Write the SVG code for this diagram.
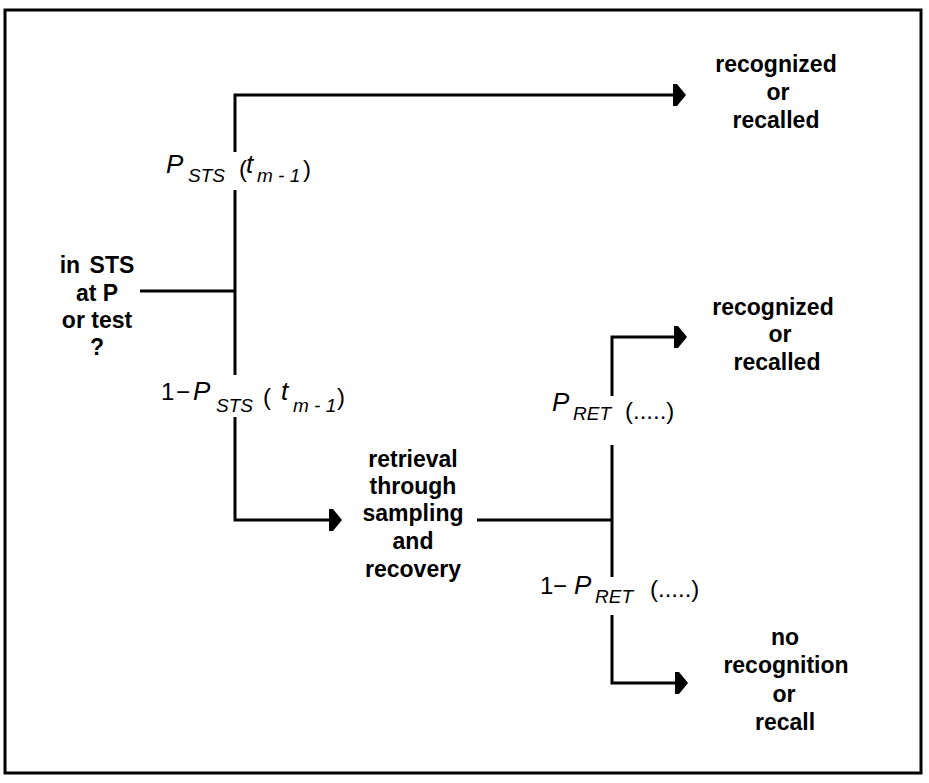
<svg xmlns="http://www.w3.org/2000/svg" width="929" height="783" viewBox="0 0 929 783">
<style>
.t{font-family:"Liberation Sans",Arial,sans-serif;font-size:23px;font-weight:bold;fill:#000;text-anchor:middle}
.f{font-family:"Liberation Sans",Arial,sans-serif;fill:#000}
.P{font-size:26px;font-style:italic}
.s{font-size:19px;font-style:italic}
.p{font-size:24px}
.c{fill:none;stroke:#000;stroke-width:3}
</style>
<defs>
<marker id="ah" markerWidth="14" markerHeight="24" refX="4" refY="12" orient="auto" markerUnits="userSpaceOnUse">
<path d="M0,1 L4,1 L13,12 L4,23 L0,23 Z" fill="#000"/>
</marker>
</defs>
<rect x="5" y="10" width="916" height="763" fill="none" stroke="#000" stroke-width="3"/>
<g id="connectors">
<path class="c" d="M235,152 V95 H677" marker-end="url(#ah)"/>
<path class="c" d="M235,190 V375"/>
<path class="c" d="M140,291 H235"/>
<path class="c" d="M235,417 V520 H333" marker-end="url(#ah)"/>
<path class="c" d="M477,520 H612"/>
<path class="c" d="M612,396 V337 H678" marker-end="url(#ah)"/>
<path class="c" d="M612,445 V577"/>
<path class="c" d="M612,615 V683 H679" marker-end="url(#ah)"/>
</g>
<g id="start">
<text class="t" x="97" y="273" word-spacing="3">in STS</text>
<text class="t" x="97" y="301">at P</text>
<text class="t" x="97" y="328">or test</text>
<text class="t" x="97" y="355">?</text>
</g>
<g id="recognized1">
<text class="t" x="776" y="72">recognized</text>
<text class="t" x="778" y="100">or</text>
<text class="t" x="776" y="128">recalled</text>
</g>
<g id="retrieval">
<text class="t" x="413" y="467">retrieval</text>
<text class="t" x="413" y="494">through</text>
<text class="t" x="413" y="521">sampling</text>
<text class="t" x="413" y="549">and</text>
<text class="t" x="413" y="577">recovery</text>
</g>
<g id="recognized2">
<text class="t" x="773" y="315">recognized</text>
<text class="t" x="780" y="342">or</text>
<text class="t" x="777" y="370">recalled</text>
</g>
<g id="norecognition">
<text class="t" x="785" y="645">no</text>
<text class="t" x="786" y="673">recognition</text>
<text class="t" x="784" y="702">or</text>
<text class="t" x="785" y="730">recall</text>
</g>
<g id="label-psts" class="f">
<text class="P" x="166" y="173">P</text>
<text class="s" x="188" y="182">STS</text>
<text class="p" x="239" y="177">(</text>
<text class="P" x="246" y="173">t</text>
<text class="s" x="257" y="182">m - 1</text>
<text class="p" x="303" y="177">)</text>
</g>
<g id="label-1psts" class="f">
<text class="p" x="161" y="400">1</text>
<text class="p" x="176" y="400">−</text>
<text class="P" x="193" y="400">P</text>
<text class="s" x="216" y="412">STS</text>
<text class="p" x="263" y="405">(</text>
<text class="P" x="281" y="400">t</text>
<text class="s" x="293" y="412">m - 1</text>
<text class="p" x="337" y="405">)</text>
</g>
<g id="label-pret" class="f">
<text class="P" x="552" y="411">P</text>
<text class="s" x="573" y="420">RET</text>
<text class="p" x="625" y="419">(.....)</text>
</g>
<g id="label-1pret" class="f">
<text class="p" x="540" y="594">1</text>
<text class="p" x="553" y="594">−</text>
<text class="P" x="574" y="594">P</text>
<text class="s" x="595" y="603">RET</text>
<text class="p" x="650" y="597">(.....)</text>
</g>
</svg>
